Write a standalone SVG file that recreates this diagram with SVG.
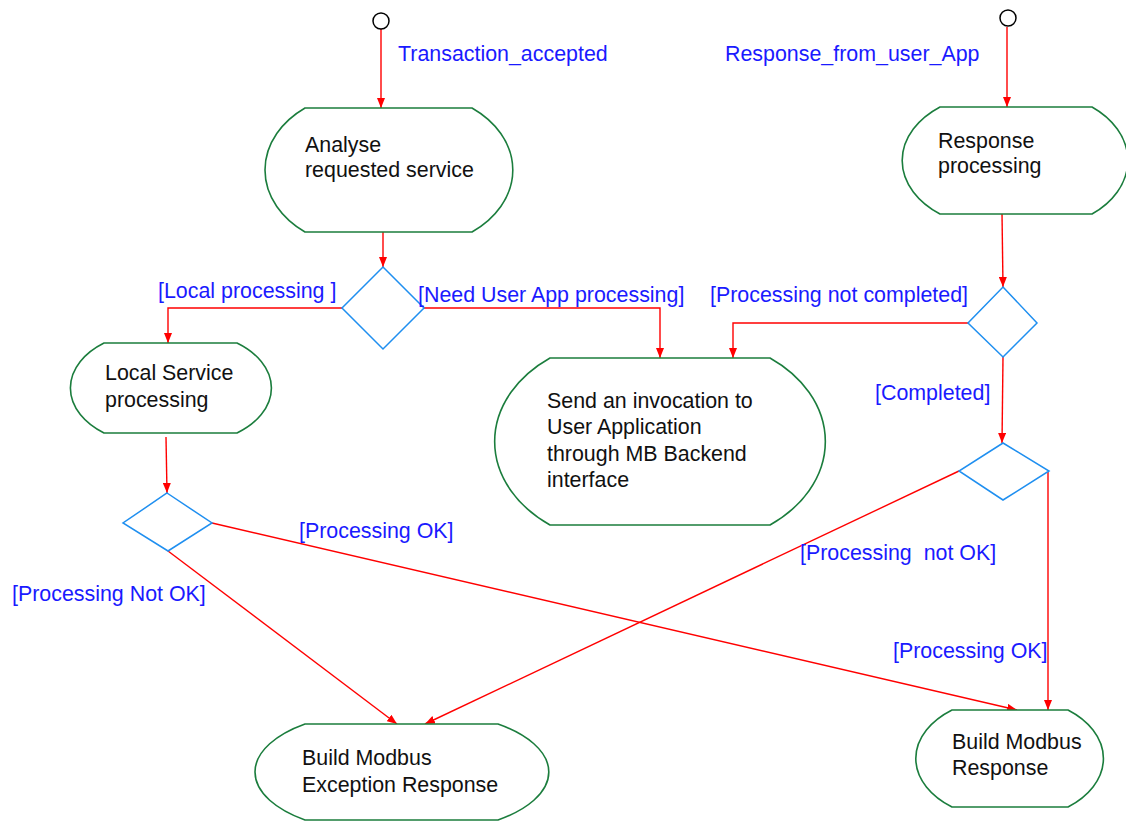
<svg xmlns="http://www.w3.org/2000/svg" width="1126" height="826" viewBox="0 0 1126 826">
<style>
.node{fill:#fff;stroke:#1b7d3d;stroke-width:1.6}
.dec{fill:#fff;stroke:#1f8ff0;stroke-width:1.5}
.start{fill:#fff;stroke:#000;stroke-width:1.5}
.t{font-family:"Liberation Sans",Arial,sans-serif;font-size:21.4px;fill:#111}
.lbl{font-family:"Liberation Sans",Arial,sans-serif;font-size:21.4px;fill:#1a1aff}
.c{fill:none;stroke:#ff0000;stroke-width:1.4;marker-end:url(#ah)}
</style>
<defs>
<marker id="ah" markerUnits="userSpaceOnUse" markerWidth="11" markerHeight="8" refX="10" refY="4" orient="auto">
<path d="M0,0 L10,4 L0,8 z" fill="#ff0000"/>
</marker>
</defs>
<rect width="1126" height="826" fill="#fff"/>

<g id="connectors">
<path class="c" d="M381,29 L381,108"/>
<path class="c" d="M383,232 L383,267"/>
<path class="c" d="M342,308 L168,308 L168,343"/>
<path class="c" d="M424,308 L660,308 L660,358"/>
<path class="c" d="M1007,27 L1007,107"/>
<path class="c" d="M1002,213 L1003,287"/>
<path class="c" d="M968,323 L733,323 L733,358"/>
<path class="c" d="M1003,357 L1002,443"/>
<path class="c" d="M166,437 L167,493"/>
<path class="c" d="M212,523 L1017,710"/>
<path class="c" d="M168,551 L397,724"/>
<path class="c" d="M959,471 L425,724"/>
<path class="c" d="M1048,471 L1048,710"/>
</g>

<g id="start1"><circle class="start" cx="381" cy="21" r="8"/></g>
<g id="start2"><circle class="start" cx="1008" cy="18" r="8"/></g>

<g id="analyse">
<path class="node" d="M305,108 L472,108 A102,77.5 0 0 1 472,232 L305,232 A100,77.5 0 0 1 305,108 Z"/>
<text class="t" x="305" y="152">Analyse</text>
<text class="t" x="305" y="177">requested service</text>
</g>

<g id="response_processing">
<path class="node" d="M940,107 L1092,107 A90,67 0 0 1 1092,214 L940,214 A95,67 0 0 1 940,107 Z"/>
<text class="t" x="938" y="148">Response</text>
<text class="t" x="938" y="173">processing</text>
</g>

<g id="local_service">
<path class="node" d="M104,343 L237,343 A85,56 0 0 1 237,433 L104,433 A83,56 0 0 1 104,343 Z"/>
<text class="t" x="105" y="380">Local Service</text>
<text class="t" x="105" y="407">processing</text>
</g>

<g id="send_invocation">
<path class="node" d="M550,358 L770,358 A137,104 0 0 1 770,525 L550,525 A137,104 0 0 1 550,358 Z"/>
<text class="t" x="547" y="408">Send an invocation to</text>
<text class="t" x="547" y="434">User Application</text>
<text class="t" x="547" y="461">through MB Backend</text>
<text class="t" x="547" y="487">interface</text>
</g>

<g id="exception_response">
<path class="node" d="M305,724 L498,724 A127,60 0 0 1 498,820 L305,820 A125,60 0 0 1 305,724 Z"/>
<text class="t" x="302" y="765">Build Modbus</text>
<text class="t" x="302" y="792">Exception Response</text>
</g>

<g id="modbus_response">
<path class="node" d="M952,710 L1068,710 A90,61 0 0 1 1068,807 L952,807 A92,61 0 0 1 952,710 Z"/>
<text class="t" x="952" y="749">Build Modbus</text>
<text class="t" x="952" y="775">Response</text>
</g>

<g id="decision1"><path class="dec" d="M383,267 L424,308 L383,349 L342,308 Z"/></g>
<g id="decision2"><path class="dec" d="M167,493 L212,523 L168,551 L123,523 Z"/></g>
<g id="decision3"><path class="dec" d="M1003,287 L1037,323 L1003,357 L968,323 Z"/></g>
<g id="decision4"><path class="dec" d="M1003,443 L1049,471 L1003,500 L959,471 Z"/></g>

<g id="labels">
<text class="lbl" x="398" y="61">Transaction_accepted</text>
<text class="lbl" x="725" y="61">Response_from_user_App</text>
<text class="lbl" x="158" y="298">[Local processing ]</text>
<text class="lbl" x="418" y="302">[Need User App processing]</text>
<text class="lbl" x="710" y="302">[Processing not completed]</text>
<text class="lbl" x="875" y="400">[Completed]</text>
<text class="lbl" x="299" y="538">[Processing OK]</text>
<text class="lbl" x="12" y="601">[Processing Not OK]</text>
<text class="lbl" x="800" y="560" xml:space="preserve">[Processing  not OK]</text>
<text class="lbl" x="893" y="658">[Processing OK]</text>
</g>
</svg>
